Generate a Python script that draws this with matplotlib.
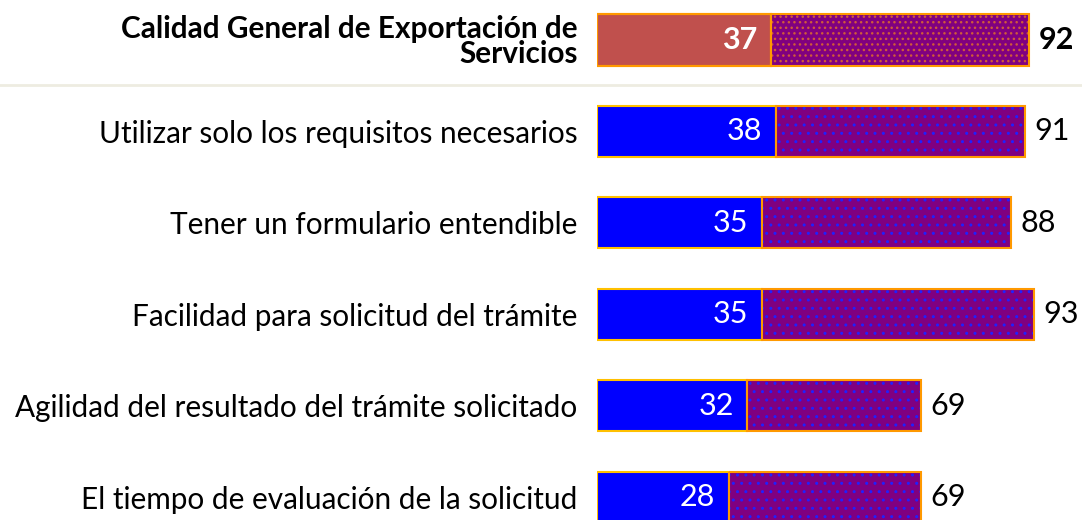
import matplotlib.pyplot as plt
from matplotlib.lines import Line2D

plt.rcParams['font.family'] = ['Lato', 'DejaVu Sans']
plt.rcParams['hatch.linewidth'] = 1.0

labels = ["Calidad General de Exportación de\nServicios",
          "Utilizar solo los requisitos necesarios",
          "Tener un formulario entendible",
          "Facilidad para solicitud del trámite",
          "Agilidad del resultado del trámite solicitado",
          "El tiempo de evaluación de la solicitud"]
first = [37, 38, 35, 35, 32, 28]
total = [92, 91, 88, 93, 69, 69]
rest = [t - f for t, f in zip(total, first)]

first_colors = ["#C0504D"] + ["#0000FF"] * 5
dot_colors = ["#D05A3A"] + ["#2020FF"] * 5

fig = plt.figure(figsize=(10.82, 5.2), dpi=100)
ax = fig.add_axes([597 / 1082, 0, 485 / 1082, 1])
ypos = list(range(len(labels)))
h = 0.56

ax.barh(ypos, first, height=h, color=first_colors, edgecolor="#FFC000", linewidth=1.5)
ax.barh(ypos, rest, left=first, height=h, color="#800080", linewidth=0)
for y, r, f, c in zip(ypos, rest, first, dot_colors):
    ax.barh(y, r, left=f, height=h, color="none", edgecolor=c,
            hatch="..." if y == 0 else "..", linewidth=0)
ax.barh(ypos, rest, left=first, height=h, color="none", edgecolor="#FF9900", linewidth=1.5)
ax.barh(ypos[0], first[0], height=h, color="none", edgecolor="#FF9900", linewidth=1.5)

for i, (f, t) in enumerate(zip(first, total)):
    w = "bold" if i == 0 else "normal"
    ax.text(f - 2.8, i, str(f), ha="right", va="center", color="white", fontsize=22, fontweight=w)
    ax.text(t + 2.0, i, str(t), ha="left", va="center", color="black", fontsize=22, fontweight=w)

ax.set_xlim(0, 485 / 4.7)
ax.set_ylim(5.25, -0.4376)
ax.set_yticks(ypos)
ax.set_yticklabels(labels, fontsize=21.4)
ax.get_yticklabels()[0].set_fontweight("bold")
ax.get_yticklabels()[0].set_fontsize(21.4)
ax.get_yticklabels()[0].set_linespacing(0.9)
ax.tick_params(axis="y", length=0, pad=14)
ax.set_xticks([])
for s in ax.spines.values():
    s.set_visible(False)

fig.add_artist(Line2D([0, 1], [1 - 85 / 520, 1 - 85 / 520], color="#EEECE1", linewidth=2))

fig.savefig("out.png", dpi=100)
